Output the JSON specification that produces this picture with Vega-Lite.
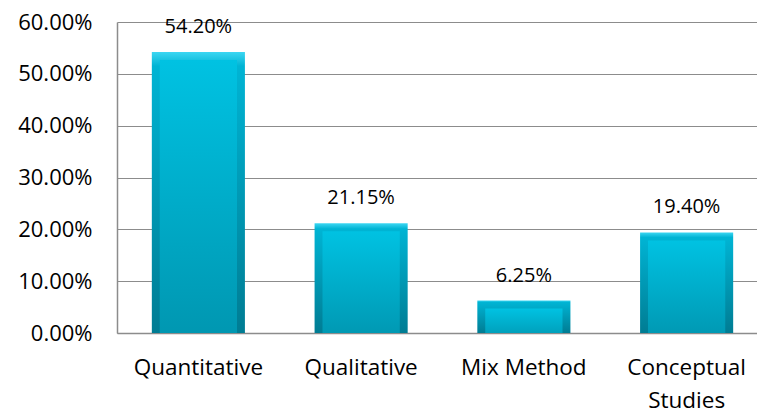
{
  "$schema": "https://vega.github.io/schema/vega-lite/v6.json",
  "width": 651,
  "height": 311,
  "autosize": "none",
  "padding": {"left": 117, "top": 22, "right": 0, "bottom": 81},
  "background": "white",
  "config": {"view": {"stroke": null}, "font": "Open Sans"},
  "data": {
    "values": [
      {"method": "Quantitative", "share": 0.542},
      {"method": "Qualitative", "share": 0.2115},
      {"method": "Mix Method", "share": 0.0625},
      {"method": "Conceptual Studies", "share": 0.194}
    ]
  },
  "encoding": {
    "x": {
      "field": "method",
      "type": "nominal",
      "sort": null,
      "scale": {"paddingInner": 0.428, "paddingOuter": 0.214},
      "axis": {
        "title": null,
        "labelAngle": 0,
        "ticks": false,
        "domainColor": "#8c8c8c",
        "domainWidth": 1.5,
        "labelFontSize": 22.5,
        "labelColor": "#000000",
        "labelPadding": 23,
        "labelLineHeight": 33,
        "labelExpr": "datum.label == 'Conceptual Studies' ? ['Conceptual', 'Studies'] : datum.label"
      }
    },
    "y": {
      "field": "share",
      "type": "quantitative",
      "scale": {"domain": [0, 0.6]},
      "axis": {
        "title": null,
        "values": [0, 0.1, 0.2, 0.3, 0.4, 0.5, 0.6],
        "format": ".2%",
        "ticks": false,
        "grid": true,
        "gridColor": "#8c8c8c",
        "gridWidth": 1.2,
        "domainColor": "#8c8c8c",
        "domainWidth": 1.5,
        "labelFontSize": 22,
        "labelColor": "#000000",
        "labelPadding": 25
      }
    }
  },
  "layer": [
    {
      "mark": {
        "type": "bar",
        "fill": {
          "gradient": "linear", "x1": 0, "y1": 0, "x2": 0, "y2": 1,
          "stops": [
            {"offset": 0, "color": "#3cd6f2"},
            {"offset": 0.05, "color": "#00b4d4"},
            {"offset": 1, "color": "#007c93"}
          ]
        }
      }
    },
    {
      "mark": {
        "type": "bar",
        "clip": true,
        "width": {"band": 0.83},
        "yOffset": 8,
        "fill": {
          "gradient": "linear", "x1": 0, "y1": 0, "x2": 0, "y2": 1,
          "stops": [
            {"offset": 0, "color": "#00c2e2"},
            {"offset": 1, "color": "#0096b0"}
          ]
        }
      }
    },
    {
      "mark": {"type": "text", "dy": -19, "baseline": "alphabetic", "fontSize": 20, "color": "#000000"},
      "encoding": {"text": {"field": "share", "type": "quantitative", "format": ".2%"}}
    }
  ]
}
